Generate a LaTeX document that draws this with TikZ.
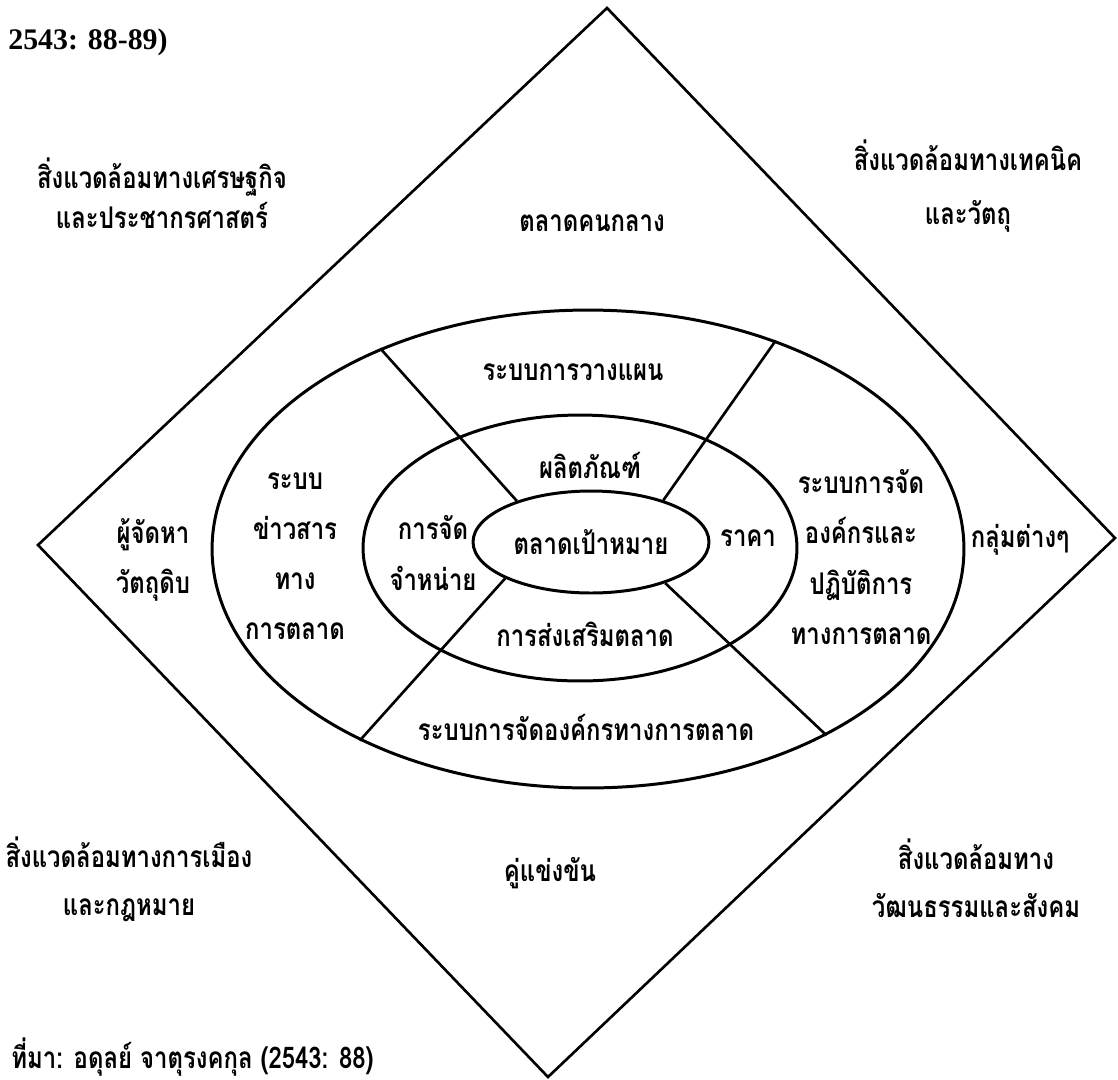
\documentclass[tikz,border=0pt]{standalone}
\usepackage{fontspec}
\usepackage{tikz}
\usetikzlibrary{shapes.geometric}
\newfontfamily\thaifont[Script=Thai,FakeStretch=0.8]{Loma}
\newfontfamily\numfont{Liberation Serif}
\tikzset{%
  thaitext/.style={font=\thaifont\bfseries\fontsize{17}{28.5}\selectfont, align=center, inner sep=0pt},
  ring/.style={ellipse, draw, line width=1.7pt, inner sep=0pt},
  divider/.style={line width=1.5pt}
}
\begin{document}
\begin{tikzpicture}[x=0.02cm, y=-0.02cm]
\useasboundingbox (0,0) rectangle (1118,1079);

% diamond
\coordinate (dTop) at (607,8);
\coordinate (dRight) at (1115,538);
\coordinate (dBottom) at (548,1077);
\coordinate (dLeft) at (38,545);
\draw[line width=1.5pt] (dTop) -- (dRight) -- (dBottom) -- (dLeft) -- cycle;

% rings
\node[ring, minimum width=15.04cm, minimum height=9.56cm] (outer) at (588,549) {};
\node[ring, minimum width=8.68cm, minimum height=5.32cm] (middle) at (580,548) {};
\node[ring, thaitext, minimum width=4.72cm, minimum height=2.04cm] (target) at (591,542) {ตลาดเป้าหมาย};

\draw[divider] (target.151.6) -- (outer.136.6);
\draw[divider] (target.30.6) -- (outer.48.9);
\draw[divider] (target.203.4) -- (outer.220.7);
\draw[divider] (target.331.6) -- (outer.322);

% inner ring
\node[thaitext] (product) at (590,465) {ผลิตภัณฑ์};
\node[thaitext] (place) at (433,553) {การจัด\\จำหน่าย};
\node[thaitext] (price) at (748,538) {ราคา};
\node[thaitext] (promo) at (585,634) {การส่งเสริมตลาด};

% outer ring
\node[thaitext] (planning) at (573,372) {ระบบการวางแผน};
\node[thaitext] (info) at (295,556) {ระบบ\\ข่าวสาร\\ทาง\\การตลาด};
\node[thaitext] (operation) at (861,557) {ระบบการจัด\\องค์กรและ\\ปฏิบัติการ\\ทางการตลาด};
\node[thaitext] (organize) at (586,727) {ระบบการจัดองค์กรทางการตลาด};

% inside the diamond
\node[thaitext] (middleman) at (592,223) {ตลาดคนกลาง};
\node[thaitext] (supplier) at (153,560) {ผู้จัดหา\\วัตถุดิบ};
\node[thaitext] (groups) at (1020,540) {กลุ่มต่างๆ};
\node[thaitext] (rival) at (550,873) {คู่แข่งขัน};

% corners
\node[thaitext] (economy) at (162,193) {สิ่งแวดล้อมทางเศรษฐกิจ\\[-5.7pt]และประชากรศาสตร์};
\node[thaitext] (technic) at (968,186) {สิ่งแวดล้อมทางเทคนิค\\[1.7pt]และวัตถุ};
\node[thaitext] (politics) at (129,879) {สิ่งแวดล้อมทางการเมือง\\[-1.1pt]และกฎหมาย};
\node[thaitext] (culture) at (976,878) {สิ่งแวดล้อมทาง\\[-1.1pt]วัฒนธรรมและสังคม};

\node[font=\numfont\bfseries\fontsize{17}{20}\selectfont, inner sep=0pt] (pages) at (88,42) {2543: 88-89)};
\node[thaitext, anchor=west] (source) at (11,1057) {ที่มา: อดุลย์ จาตุรงคกุล (2543: 88)};
\end{tikzpicture}
\end{document}
